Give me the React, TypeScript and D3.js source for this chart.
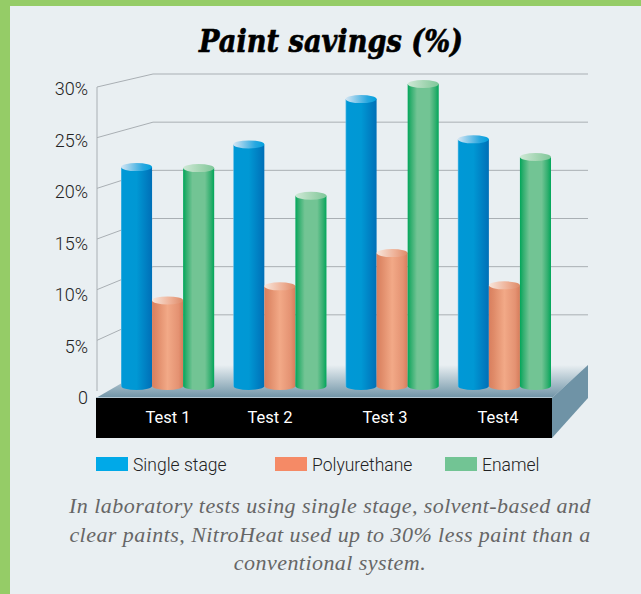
import { useEffect, useRef } from 'react';
import * as d3 from 'd3';

const tests = ['Test 1', 'Test 2', 'Test 3', 'Test4'];
const seriesNames = ['Single stage', 'Polyurethane', 'Enamel'];
const singleStage = [21.75, 24, 28.5, 24.5];
const polyurethane = [8.5, 9.9, 13.2, 10];
const enamel = [21.65, 18.9, 30, 22.75];
const yTicks = [0, 5, 10, 15, 20, 25, 30];
const caption = [
  'In laboratory tests using single stage, solvent-based and',
  'clear paints, NitroHeat used up to 30% less paint than a',
  'conventional system.',
];

const width = 641;
const height = 594;
const bg = '#e9eff2';

const App = () => {
  const ref = useRef<SVGSVGElement>(null);

  useEffect(() => {
    const svg = d3.select(ref.current);
    svg.selectAll('*').remove();

    // Frame
    svg.append('rect').attr('width', width).attr('height', height).attr('fill', '#95cc67');
    svg.append('rect').attr('x', 10).attr('y', 6).attr('width', width - 10).attr('height', height - 6).attr('fill', bg);

    // Gradients
    const defs = svg.append('defs');
    const addGradient = (id: string, stops: [number, string][], vertical = false) => {
      const g = defs.append('linearGradient').attr('id', id)
        .attr('x1', 0).attr('y1', 0)
        .attr('x2', vertical ? 0 : 1).attr('y2', vertical ? 1 : 0);
      stops.forEach(([o, c]) => g.append('stop').attr('offset', o).attr('stop-color', c));
    };
    addGradient('body0', [[0, '#5cbce6'], [0.04, '#0098d6'], [0.5, '#0098d4'], [1, '#006fb7']]);
    addGradient('body1', [[0, '#d97f5e'], [0.15, '#df8a68'], [0.5, '#f2a987'], [0.85, '#e49272'], [1, '#d67c5b']]);
    addGradient('body2', [[0, '#00a75a'], [0.1, '#2fae6e'], [0.3, '#72c494'], [0.7, '#72c494'], [0.9, '#2fae6e'], [1, '#00a75a']]);
    addGradient('cap0', [[0, '#d6e6f3'], [0.7, '#2aa8e0'], [1, '#00a0dd']]);
    addGradient('cap1', [[0, '#f7e6dc'], [0.6, '#eeb096'], [1, '#dd8a68']]);
    addGradient('cap2', [[0, '#cfe8d6'], [0.6, '#a0d4b0'], [1, '#7fc79a']]);
    addGradient('floor', [[0, bg], [1, '#6f93a6']], true);

    // Back gridlines and left wall
    const yFront = d3.scaleLinear().domain([0, 30]).range([391, 87]);
    const yBack = d3.scaleLinear().domain([0, 30]).range([363, 74]);
    const gridColor = '#a9afb4';
    const wallX = 97;
    const backX = 153;
    const rightX = 588;

    const grid = svg.append('g').attr('fill', 'none').attr('stroke', gridColor);
    grid.selectAll('path')
      .data(yTicks.filter(d => d > 0))
      .enter()
      .append('path')
      .attr('d', d => `M${wallX},${yFront(d)}L${backX},${yBack(d)}L${rightX},${yBack(d)}`);
    grid.append('line')
      .attr('x1', wallX).attr('x2', wallX)
      .attr('y1', yFront(30)).attr('y2', yFront(0));

    // Floor, side and front of the base
    const base = { left: 96, right: 552, top: 398, bottom: 438 };
    svg.append('path')
      .attr('d', `M${base.left},${base.top}L${backX},365L${rightX},365L${base.right},${base.top}Z`)
      .attr('fill', 'url(#floor)');
    svg.append('path')
      .attr('d', `M${base.right},${base.top}L${rightX},365L${rightX},${base.top}L${base.right},${base.bottom}Z`)
      .attr('fill', '#6f93a6');
    svg.append('rect')
      .attr('x', base.left).attr('y', base.top)
      .attr('width', base.right - base.left).attr('height', base.bottom - base.top)
      .attr('fill', '#000');
    svg.append('line')
      .attr('x1', base.left).attr('x2', base.right)
      .attr('y1', base.top - 0.5).attr('y2', base.top - 0.5)
      .attr('stroke', '#b4c8d4');

    // Cylinders
    const x0 = d3.scaleBand().domain(tests).range([121, 551]).paddingInner(0.17);
    const x1 = d3.scaleBand().domain(seriesNames).range([0, x0.bandwidth()]);
    const yBar = d3.scaleLinear().domain([0, 30]).range([386, 84]);
    const ry = 4;
    const seriesValues = [singleStage, polyurethane, enamel];

    seriesValues.forEach((values, s) => {
      const name = seriesNames[s];
      const rx = x1.bandwidth() / 2;
      values.forEach((v, i) => {
        const left = (x0(tests[i]) ?? 0) + (x1(name) ?? 0);
        const right = left + x1.bandwidth();
        svg.append('path')
          .attr('d', `M${left},${yBar(v)}L${left},${yBar(0)}A${rx},${ry} 0 0 0 ${right},${yBar(0)}L${right},${yBar(v)}Z`)
          .attr('fill', `url(#body${s})`);
        svg.append('ellipse')
          .attr('cx', left + rx).attr('cy', yBar(v))
          .attr('rx', rx).attr('ry', ry)
          .attr('fill', `url(#cap${s})`);
      });
    });

    // Y labels
    const sans = 'Roboto, sans-serif';
    const yLabel = d3.scaleLinear().domain([0, 30]).range([404, 95]);
    svg.append('g').selectAll('text')
      .data(yTicks)
      .enter()
      .append('text')
      .attr('x', 88)
      .attr('y', d => yLabel(d))
      .attr('text-anchor', 'end')
      .style('font-family', sans)
      .style('font-weight', 300)
      .style('font-size', '18px')
      .style('fill', '#222')
      .text(d => (d === 0 ? '0' : `${d}%`));

    // Category labels sit unevenly on the base in the original
    const xLabel = d3.scaleOrdinal<string, number>().domain(tests).range([168, 270, 385, 498]);
    svg.append('g').selectAll('text')
      .data(tests)
      .enter()
      .append('text')
      .attr('x', d => xLabel(d))
      .attr('y', 423)
      .attr('text-anchor', 'middle')
      .style('font-family', sans)
      .style('font-size', '16.5px')
      .style('fill', '#fff')
      .text(d => d);

    // Legend
    const legendColors = ['#00a9e8', '#f58a66', '#72c494'];
    const legendX = d3.scaleOrdinal<string, number>().domain(seriesNames).range([96, 275, 445]);
    const legend = svg.append('g').selectAll('g')
      .data(seriesNames)
      .enter()
      .append('g')
      .attr('transform', d => `translate(${legendX(d)},457)`);
    legend.append('rect')
      .attr('width', 32).attr('height', 14)
      .attr('fill', (d, i) => legendColors[i]);
    legend.append('text')
      .attr('x', 37).attr('y', 14)
      .style('font-family', sans)
      .style('font-weight', 300)
      .style('font-size', '17.5px')
      .style('fill', '#222')
      .text(d => d);

    // Title
    svg.append('text')
      .attr('x', 331).attr('y', 52)
      .attr('text-anchor', 'middle')
      .attr('textLength', 264)
      .attr('lengthAdjust', 'spacingAndGlyphs')
      .attr('stroke', '#000')
      .attr('stroke-width', 0.7)
      .style('font-family', '"DejaVu Serif", serif')
      .style('font-weight', 'bold')
      .style('font-style', 'italic')
      .style('font-size', '32px')
      .style('fill', '#000')
      .text('Paint savings (%)');

    // Caption
    svg.append('g').selectAll('text')
      .data(caption)
      .enter()
      .append('text')
      .attr('x', 330)
      .attr('y', (d, i) => 513 + i * 28.5)
      .attr('text-anchor', 'middle')
      .style('font-family', '"Liberation Serif", serif')
      .style('font-style', 'italic')
      .style('font-size', '22px')
      .style('letter-spacing', '0.45px')
      .style('fill', '#666')
      .text(d => d);
  }, []);

  return (
    <svg
      ref={ref}
      width={width}
      height={height}
      style={{ position: 'absolute', left: 0, top: 0, display: 'block' }}
    />
  );
};

export default App;
